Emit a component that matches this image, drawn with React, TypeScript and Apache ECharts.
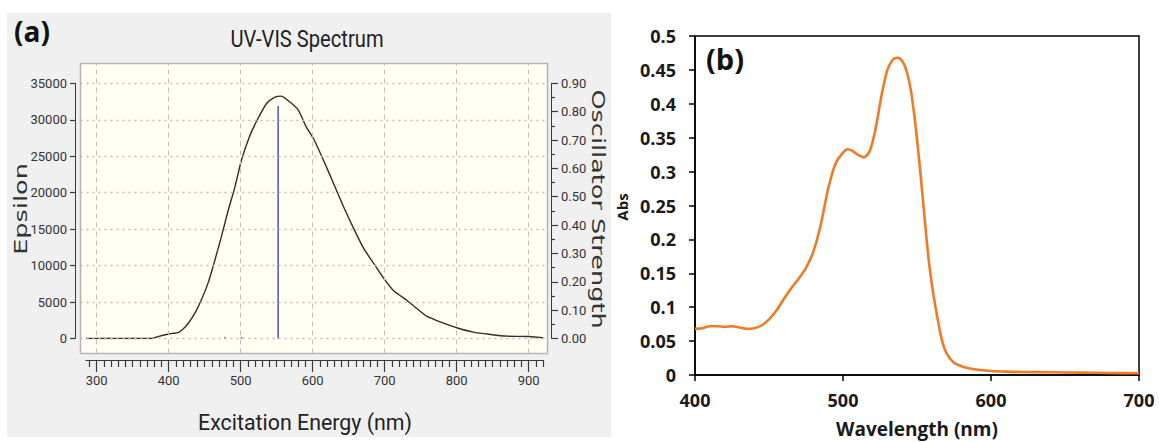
import React, { useEffect, useRef } from "react";
import * as echarts from "echarts";

// ---------- Panel (a): computed UV-VIS spectrum ----------
const specAWavelength = [285, 300, 320, 340, 360, 376, 385, 397, 405, 413, 420, 428, 436, 445, 455, 464, 473, 482, 492, 501, 512, 524, 536, 547, 556, 568, 580, 591, 601, 615, 629, 643, 657, 671, 685, 699, 712, 731, 745, 759, 778, 800, 823, 847, 870, 900, 915, 920];
const specAEpsilon = [0, 0, 0, 0, 0, 0, 250, 550, 700, 800, 1300, 2200, 3400, 5200, 7700, 10700, 13900, 17350, 20800, 24450, 27650, 30170, 32230, 33060, 33240, 32460, 31320, 29030, 27430, 24450, 21250, 18040, 15070, 12320, 10260, 8200, 6590, 5220, 4080, 3020, 2240, 1470, 870, 550, 320, 275, 150, 100];
const oscWavelength = [478, 501, 552];
const oscStrength = [0.004, 0.003, 0.82];
const xTicksA = [300, 400, 500, 600, 700, 800, 900];
const epsTicks = [0, 5000, 10000, 15000, 20000, 25000, 30000, 35000];

// ---------- Panel (b): measured absorbance ----------
const specBWavelength = [400, 405, 410, 415, 420, 425, 430, 435, 440, 445, 450, 455, 460, 465, 470, 475, 480, 485, 490, 495, 500, 503, 506, 510, 514, 518, 522, 526, 530, 534, 537, 540, 543, 546, 549, 552, 555, 558, 561, 564, 567, 570, 575, 580, 585, 590, 600, 610, 620, 640, 660, 680, 700];
const specBAbs = [0.068, 0.069, 0.072, 0.072, 0.071, 0.072, 0.07, 0.068, 0.069, 0.073, 0.082, 0.095, 0.112, 0.128, 0.142, 0.158, 0.182, 0.222, 0.275, 0.312, 0.328, 0.333, 0.331, 0.325, 0.321, 0.33, 0.363, 0.412, 0.45, 0.466, 0.468, 0.463, 0.448, 0.418, 0.368, 0.305, 0.235, 0.168, 0.12, 0.082, 0.05, 0.032, 0.018, 0.013, 0.01, 0.008, 0.006, 0.005, 0.0045, 0.004, 0.0035, 0.003, 0.0025];

// ---------- layout (pixels) ----------
const A_X300 = 96.7;
const A_PX_PER_NM = 0.72;
const A_XMIN = 285;
const A_XMAX = 920;
const A_Y0 = 338.5;
const A_YTOP = 83.3; // pixel of 35000
const A_YMAX = 35000;
const BOX = { l: 80.5, t: 63.5, r: 547.5, b: 353.5 };

const gL = A_X300 + (A_XMIN - 300) * A_PX_PER_NM;
const gR = A_X300 + (A_XMAX - 300) * A_PX_PER_NM;
const boxXMin = A_XMIN - (gL - BOX.l) / A_PX_PER_NM;
const boxXMax = A_XMAX + (BOX.r - gR) / A_PX_PER_NM;
const pxPerEps = (A_Y0 - A_YTOP) / A_YMAX;
const boxYMin = -(BOX.b - A_Y0) / pxPerEps;
const boxYMax = A_YMAX + (A_YTOP - BOX.t) / pxPerEps;

const SANS_A = "Roboto, 'Liberation Sans', sans-serif";
const BOLD = "'Open Sans', 'Lato', sans-serif";

const minorTicksA: number[] = [];
for (let v = 290; v <= 920; v += 10) if (v % 100 !== 0) minorTicksA.push(v);

function rotatedLabel(text: string, x: number, y: number, rotation: number, stretch: number, font: string, fill: string) {
  return {
    type: "group", x, y, rotation,
    children: [
      { type: "text", x: 0, y: 0, scaleX: stretch, style: { text, font, fill, align: "center", verticalAlign: "middle" } },
    ],
  };
}

export default function App() {
  const ref = useRef<HTMLDivElement>(null);
  useEffect(() => {
    if (!ref.current) return;
    const chart = echarts.init(ref.current, undefined, { renderer: "svg" });
    const dataA = specAWavelength.map((x, i) => [x, specAEpsilon[i]]);
    const dataB = specBWavelength.map((x, i) => [x, specBAbs[i]]);
    const sticks = oscWavelength.map((x, i) => [x, oscStrength[i]]);
    const axA = "#3a3a3a";

    const option: any = {
      animation: false,
      backgroundColor: "#ffffff",
      grid: [
        {
          left: BOX.l, top: BOX.t, width: BOX.r - BOX.l, height: BOX.b - BOX.t,
          show: true, backgroundColor: "#fffff4", borderColor: "#b4b4b4", borderWidth: 1.5,
        },
        { left: gL, top: A_YTOP, width: gR - gL, height: A_Y0 - A_YTOP },
        {
          left: 695, top: 36, width: 444, height: 339,
          show: true, backgroundColor: "#ffffff", borderColor: "#000000", borderWidth: 1.5,
        },
      ],
      xAxis: [
        { gridIndex: 0, type: "value", min: boxXMin, max: boxXMax, show: false },
        {
          gridIndex: 1, type: "value", min: A_XMIN, max: A_XMAX, position: "bottom", offset: 21.5,
          axisLine: { show: true, onZero: false, lineStyle: { color: axA, width: 1 } },
          axisTick: { show: true, customValues: xTicksA, length: 12, lineStyle: { color: axA, width: 1.2 } },
          axisLabel: { customValues: xTicksA, margin: 14, fontFamily: SANS_A, fontSize: 13, color: "#333" },
          splitLine: { show: false },
        },
        {
          gridIndex: 1, type: "value", min: A_XMIN, max: A_XMAX, position: "bottom", offset: 21.5,
          axisLine: { show: false, onZero: false },
          axisTick: { show: true, customValues: minorTicksA, length: 7, lineStyle: { color: axA, width: 1.2 } },
          axisLabel: { show: false },
          splitLine: { show: false },
        },
        {
          gridIndex: 2, type: "value", min: 400, max: 700, interval: 100,
          axisLine: { show: true, onZero: false, lineStyle: { color: "#000", width: 1.5 } },
          axisTick: { show: true, inside: false, length: 6, lineStyle: { color: "#000", width: 1.5 } },
          axisLabel: { margin: 16, fontFamily: BOLD, fontWeight: "bold", fontSize: 18, color: "#1a1a1a" },
          splitLine: { show: false },
        },
      ],
      yAxis: [
        { gridIndex: 0, type: "value", min: boxYMin, max: boxYMax, show: false },
        {
          gridIndex: 1, type: "value", min: 0, max: A_YMAX, interval: 5000, position: "left", offset: gL - 75,
          axisLine: { show: true, onZero: false, lineStyle: { color: axA, width: 1 } },
          axisTick: { show: true, length: 5, lineStyle: { color: axA, width: 1.2 } },
          axisLabel: { margin: 8, fontFamily: SANS_A, fontSize: 13, color: "#333", formatter: (v: number) => String(v) },
          splitLine: { show: false },
        },
        {
          gridIndex: 1, type: "value", min: 0, max: 0.9, interval: 0.1, position: "right", offset: 551 - gR,
          axisLine: { show: true, onZero: false, lineStyle: { color: axA, width: 1 } },
          axisTick: { show: true, length: 7, lineStyle: { color: axA, width: 1.2 } },
          minorTick: { show: true, splitNumber: 2, length: 4, lineStyle: { color: axA, width: 1.2 } },
          axisLabel: { margin: 10, fontFamily: SANS_A, fontSize: 13, color: "#333", formatter: (v: number) => v.toFixed(2) },
          splitLine: { show: false },
        },
        {
          gridIndex: 2, type: "value", min: 0, max: 0.5, interval: 0.05,
          axisLine: { show: true, onZero: false, lineStyle: { color: "#000", width: 1.5 } },
          axisTick: { show: true, inside: false, length: 6, lineStyle: { color: "#000", width: 1.5 } },
          axisLabel: { margin: 19, fontFamily: BOLD, fontWeight: "bold", fontSize: 18, color: "#1a1a1a" },
          splitLine: { show: false },
        },
      ],
      series: [
        {
          type: "line", xAxisIndex: 0, yAxisIndex: 0, data: [], silent: true,
          markLine: {
            silent: true, symbol: "none", animation: false, label: { show: false },
            data: [
              ...xTicksA.map((v) => ({ xAxis: v, lineStyle: { color: "#bdbdbd", type: [5, 4], width: 1 } })),
              ...epsTicks.map((v) => ({ yAxis: v, lineStyle: { color: "#bdbdbd", type: [2, 4], width: 1.3 } })),
            ],
          },
        },
        {
          type: "line", xAxisIndex: 1, yAxisIndex: 1, data: dataA, showSymbol: false, smooth: 0.2,
          lineStyle: { color: "#2e2e2e", width: 1.4 }, silent: true, z: 3,
        },
        {
          type: "custom", xAxisIndex: 1, yAxisIndex: 2, data: sticks, silent: true, z: 4,
          renderItem: (params: any, api: any) => {
            const x = api.value(0);
            const p0 = api.coord([x, 0]);
            const p1 = api.coord([x, api.value(1)]);
            return {
              type: "line",
              shape: { x1: p0[0], y1: p0[1], x2: p1[0], y2: Math.min(p1[1], p0[1] - 1.5) },
              style: { stroke: "#5660b0", lineWidth: 1.6 },
            };
          },
        },
        {
          type: "line", xAxisIndex: 3, yAxisIndex: 3, data: dataB, showSymbol: false, smooth: 0.3,
          lineStyle: { color: "#f07a26", width: 2.6 }, silent: true,
        },
      ],
      graphic: [
        { type: "rect", z: -10, shape: { x: 7, y: 13, width: 604, height: 424 }, style: { fill: "#f0f0f0" }, silent: true },
        { type: "text", x: 14, y: 31, style: { text: "(a)", font: `bold 28px ${BOLD}`, fill: "#111", verticalAlign: "middle" } },
        { type: "text", x: 307, y: 38, scaleX: 0.84, style: { text: "UV-VIS Spectrum", font: `24px ${SANS_A}`, fill: "#222", align: "center", verticalAlign: "middle" } },
        { type: "text", x: 305, y: 422, scaleX: 0.93, style: { text: "Excitation Energy (nm)", font: `23px ${SANS_A}`, fill: "#222", align: "center", verticalAlign: "middle" } },
        rotatedLabel("Epsilon", 20, 209, Math.PI / 2, 1.42, `18px 'DejaVu Sans', sans-serif`, "#333"),
        rotatedLabel("Oscillator Strength", 599, 209, -Math.PI / 2, 1.42, `18px 'DejaVu Sans', sans-serif`, "#333"),
        { type: "text", x: 706, y: 58, style: { text: "(b)", font: `bold 29px ${BOLD}`, fill: "#111", verticalAlign: "middle" } },
        { type: "text", x: 622, y: 207, rotation: Math.PI / 2, style: { text: "Abs", font: `bold 15px ${BOLD}`, fill: "#1a1a1a", align: "center", verticalAlign: "middle" } },
        { type: "text", x: 917, y: 429, style: { text: "Wavelength (nm)", font: `bold 19px ${BOLD}`, fill: "#1a1a1a", align: "center", verticalAlign: "middle" } },
      ],
    };
    chart.setOption(option);
    return () => chart.dispose();
  }, []);
  return <div ref={ref} style={{ position: "fixed", left: 0, top: 0, width: 1159, height: 442 }} />;
}
